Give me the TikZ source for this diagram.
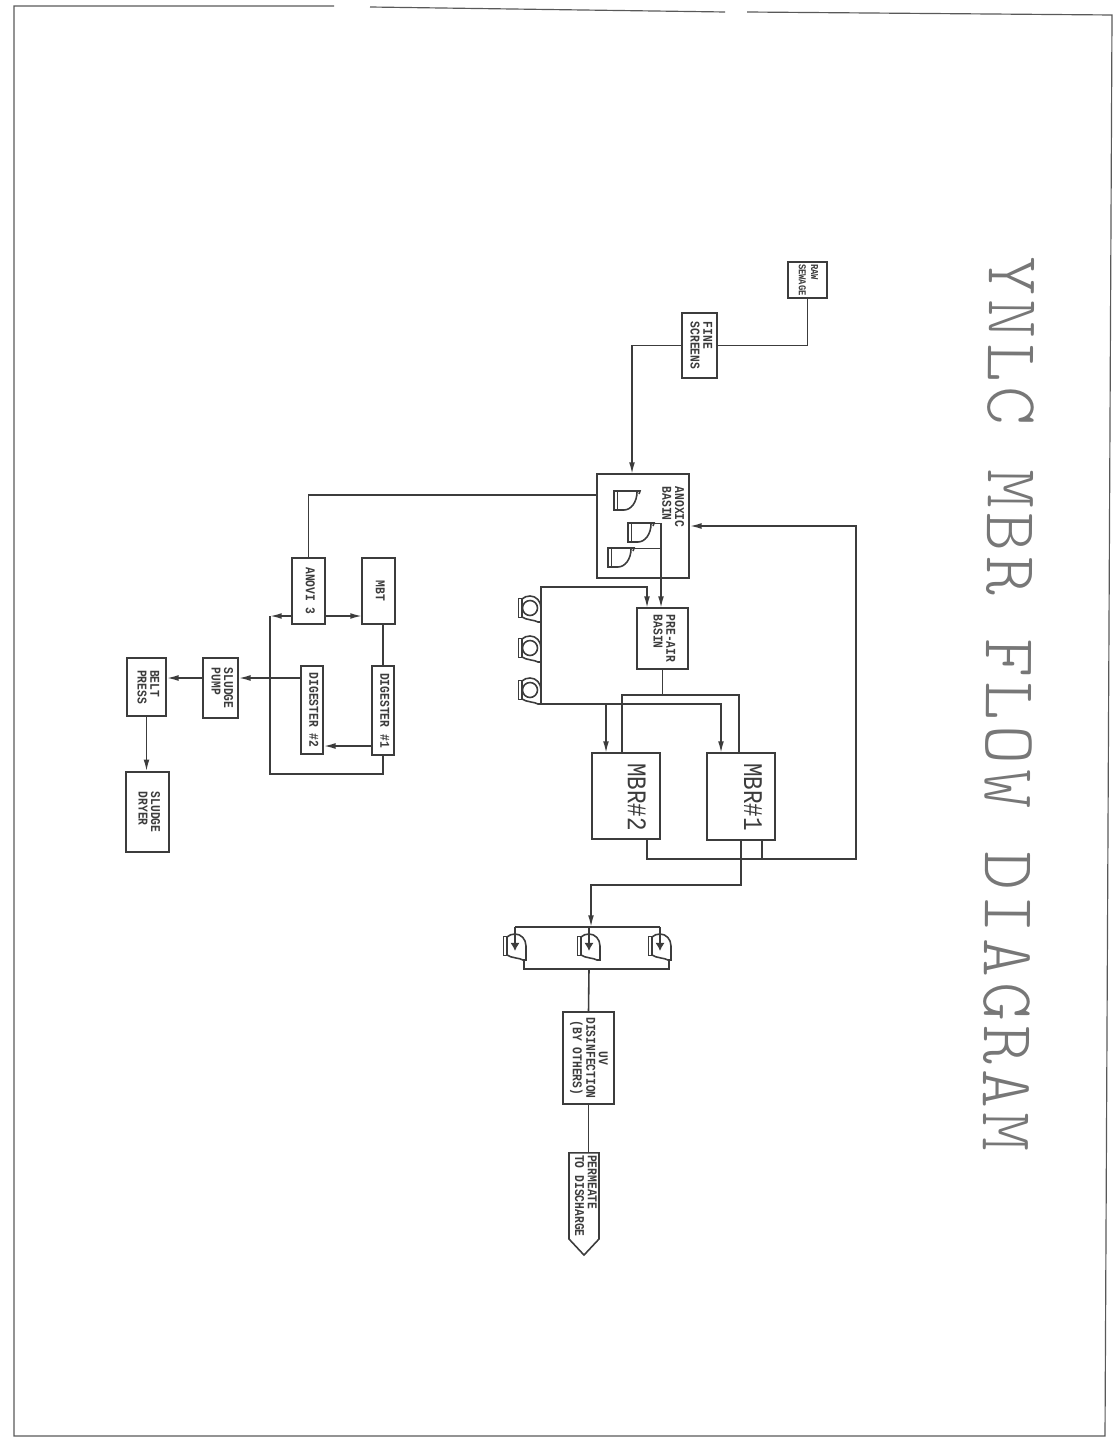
\documentclass[tikz,border=0pt]{standalone}
\usepackage{fontspec}
\usetikzlibrary{arrows.meta,calc,shapes.symbols}
\setmonofont{Liberation Mono}[FakeStretch=0.84]
\newfontfamily\titlefont{lmmonolt10-regular.otf}[LetterSpace=6.5]
\definecolor{ink}{HTML}{3C3C3C}
\newcommand{\vtext}[2]{\rotatebox{-90}{\begin{tabular}{@{}#1@{}}#2\end{tabular}}}

\begin{document}
\begin{tikzpicture}[x=0.03cm, y=-0.03cm, line width=1.35pt, draw=ink, text=ink,
  sz/.style 2 args={minimum width=#1*0.03cm, minimum height=#2*0.03cm},
  unit/.style={rectangle, draw=ink, inner sep=0pt, font=\fontsize{11.5}{10.5}\selectfont\ttfamily\bfseries},
  big/.style={inner sep=0pt, font=\fontsize{23}{24}\selectfont\ttfamily},
  arr/.style={-{Latex[length=10pt,width=5pt]}},
  arrp/.style={-{Latex[length=7pt,width=8pt]}},
  pics/casing/.style={code={
    \draw (-11.5,-9.5) rectangle (-8,9.5);
    \draw (-8,-9) .. controls (-6,-11) and (-3,-12) .. (0,-12) .. controls (6,-12) and (11,-7) .. (11,0) -- (11,14) -- (8,14) .. controls (5,12) and (-4,12) .. (-8,9);
  }},
  pics/blower/.style={code={
    \pic {casing};
    \draw (0,0) circle (7.5);
    \coordinate (-foot) at (11,14);
  }},
  pics/pumpb/.style={code={
    \pic {casing};
    \coordinate (-in) at (0,5);
    \coordinate (-foot) at (9,14);
  }},
  pics/mixer/.style={code={
    \draw (0,0) rectangle (3.5,19);
    \draw (3.5,0) -- (26,0) -- (25,3);
    \draw (3.5,19) -- (10,19) .. controls (17,19) and (23,11) .. (23,1);
    \coordinate (-out) at (26,0.5);
  }}
]
  \useasboundingbox (0,0) rectangle (1115,1439);
  % Sheet border
  \draw[gray!70!black, line width=1pt] (334,6) -- (14,6) -- (14,1436) -- (1105,1436) -- (1112,15) -- (747,12);
  \draw[gray!70!black, line width=1pt] (370,7) -- (725,12);
  % Title
  \node[rotate=-90.4, inner sep=0pt, text=ink!70, font=\fontsize{63}{63}\selectfont\titlefont] (title) at (1009,704) {YNLC MBR FLOW DIAGRAM};
  % Headworks
  \node[unit, sz={39}{36}, font=\fontsize{9}{10.5}\selectfont\ttfamily\bfseries] (raw) at (807.5,280) {\vtext{l}{RAW\\SEWAGE}};
  \node[unit, sz={35}{65}] (fine) at (699.5,345.5) {\vtext{l}{FINE\\SCREENS}};
  \node[unit, sz={92}{104}] (anoxic) at (643,526) {};
  \node[unit, draw=none] (anoxiclbl) at (671.5,507) {\vtext{l}{ANOXIC\\BASIN}};
  \node[unit, sz={51}{61}] (preair) at (662.5,638.5) {\vtext{l}{PRE-AIR\\BASIN}};
  % Membrane tanks
  \node[unit, sz={68}{86}] (mbr2) at (626,796) {};
  \node[unit, sz={68}{87}] (mbr1) at (741,796.5) {};
  \node[big] (mbr2lbl) at (637,797) {\rotatebox{-90}{MBR\#2}};
  \node[big] (mbr1lbl) at (753,797) {\rotatebox{-90}{MBR\#1}};
  % Effluent
  \node[unit, sz={51}{92}] (uv) at (588.5,1058) {\vtext{c}{UV\\DISINFECTION\\(BY OTHERS)}};
  \node[unit, signal, signal to=south, signal pointer angle=86, anchor=north, sz={30}{102}, inner sep=2pt] (permeate) at (584,1152) {\vtext{l}{PERMEATE\\TO DISCHARGE}};
  % Solids train
  \node[unit, sz={33}{66}] (anovi) at (308.5,591) {\vtext{l}{ANOVI 3}};
  \node[unit, sz={33}{66}] (mbt) at (378.5,591) {\vtext{l}{MBT}};
  \node[unit, sz={22}{89}] (dig1) at (383,710.5) {\vtext{l}{DIGESTER \#1}};
  \node[unit, sz={22}{88}] (dig2) at (312,710) {\vtext{l}{DIGESTER \#2}};
  \node[unit, sz={35}{60}] (pump) at (220.5,688) {\vtext{l}{SLUDGE\\PUMP}};
  \node[unit, sz={39}{58}] (press) at (146.5,687) {\vtext{l}{BELT\\PRESS}};
  \node[unit, sz={43}{80}] (dryer) at (147.5,812) {\vtext{l}{SLUDGE\\DRYER}};
  % Mixers and blowers
  \pic (mx1) at (614,491) {mixer};
  \pic (mx2) at (628,523) {mixer};
  \pic (mx3) at (608,548) {mixer};
  \pic (ab1) at (530,608) {blower};
  \pic (ab2) at (530,648) {blower};
  \pic (ab3) at (530,690) {blower};
  \pic (pp1) at (515,946) {pumpb};
  \pic (pp2) at (589,946) {pumpb};
  \pic (pp3) at (660,946) {pumpb};
  % Junction points
  \coordinate (anoxicin) at (632,474);
  \coordinate (anoxicout) at (597,495);
  \coordinate (preairin) at (661,608);
  \coordinate (preairair) at (647,608);
  \coordinate (airtop) at (541,587);
  \coordinate (airbot) at (541,704);
  \coordinate (splt) at (662.5,695);
  \coordinate (mbr2in) at (622,753);
  \coordinate (mbr1in) at (739,753);
  \coordinate (mbr2air) at (606,753);
  \coordinate (mbr1air) at (721,753);
  \coordinate (mbr2out) at (647,839);
  \coordinate (mbr1outa) at (741,840);
  \coordinate (mbr1outb) at (762,840);
  \coordinate (collect) at (856,859);
  \coordinate (effl) at (741,885);
  \coordinate (phdrt) at (591,927);
  \coordinate (phdrb) at (589,969);
  \coordinate (anovir) at (325,616);
  \coordinate (anovil) at (292,616);
  \coordinate (mbtin) at (362,616);
  \coordinate (rettop) at (270,616);
  \coordinate (retbot) at (270,774);
  \coordinate (digout) at (372,746);
  \coordinate (dig2out) at (301,678);
  \coordinate (pumpout) at (203,678);
  % Liquid line
  \draw (raw.south) |- (fine.east);
  \draw[arr] (fine.west) -| (anoxicin);
  \draw[arr] (mx2-out) -| (preairin);
  \draw (mx3-out) -- (mx3-out -| preairin);
  \draw (preair.south) -- (splt);
  \draw (mbr2in) |- (splt) -| (mbr1in);
  \draw[arr] (airbot) -- (airtop) -| (preairair);
  \draw[arr] (airbot) -| (mbr1air);
  \draw[arr] (mbr2air |- airbot) -- (mbr2air);
  \draw[arr] (mbr2out) |- (collect) |- (anoxic.east);
  \draw (mbr1outb) -- (mbr1outb |- collect);
  \draw[arr] (mbr1outa) -- (effl) -| (phdrt);
  \draw (pp1-in |- phdrt) -- (pp3-in |- phdrt);
  \draw[arrp] (pp1-in |- phdrt) -- (pp1-in);
  \draw[arrp] (pp2-in |- phdrt) -- (pp2-in);
  \draw[arrp] (pp3-in |- phdrt) -- (pp3-in);
  \draw (pp1-foot) |- (phdrb) -| (pp3-foot);
  \draw (phdrb) -- (uv.north);
  \draw (uv.south) -- (uv.south |- permeate.north);
  % Solids line
  \draw (anoxicout) -| (anovi.north);
  \draw[arr] (anovir) -- (mbtin);
  \draw (dig1.north |- mbt.south) -- (dig1.north);
  \draw[arr] (digout) -- (digout -| dig2.east);
  \draw (dig1.south) |- (retbot) -- (rettop);
  \draw[arr] (anovil) -- (rettop);
  \draw[arr] (dig2out) -- (dig2out -| pump.east);
  \draw[arr] (pumpout) -- (pumpout -| press.east);
  \draw[arr] (press.south) -- (press.south |- dryer.north);
\end{tikzpicture}
\end{document}
